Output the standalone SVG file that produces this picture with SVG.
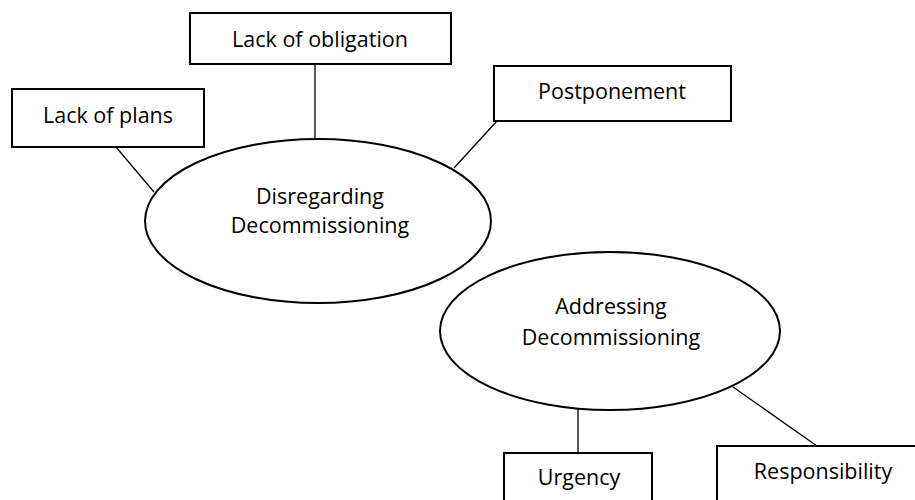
<svg xmlns="http://www.w3.org/2000/svg" width="915" height="500" viewBox="0 0 915 500">
  <style>
    .box { fill: #ffffff; stroke: #000000; stroke-width: 2; }
    .oval { fill: #ffffff; stroke: #000000; stroke-width: 2; }
    .link { stroke: #000000; stroke-width: 1.3; fill: none; }
    .label { font-family: "Open Sans", "Liberation Sans", sans-serif; font-size: 21.5px; fill: #000000; text-anchor: middle; }
  </style>
  <rect width="915" height="500" fill="#ffffff"/>

  <!-- connectors -->
  <g id="connectors">
    <line class="link" x1="116" y1="147" x2="154" y2="192"/>
    <line class="link" x1="315" y1="64" x2="315" y2="140"/>
    <line class="link" x1="497" y1="121" x2="454" y2="168"/>
    <line class="link" x1="578" y1="409" x2="578" y2="453"/>
    <line class="link" x1="733" y1="387" x2="817" y2="446"/>
  </g>

  <g id="lack-of-obligation">
    <rect class="box" x="190" y="13" width="261" height="51"/>
    <text class="label" x="320" y="47">Lack of obligation</text>
  </g>

  <g id="lack-of-plans">
    <rect class="box" x="12" y="89" width="192" height="58"/>
    <text class="label" x="108" y="123">Lack of plans</text>
  </g>

  <g id="postponement">
    <rect class="box" x="494" y="66" width="237" height="55"/>
    <text class="label" x="612" y="99">Postponement</text>
  </g>

  <g id="disregarding">
    <ellipse class="oval" cx="318" cy="221" rx="173" ry="82"/>
    <text class="label" x="320" y="204">Disregarding</text>
    <text class="label" x="320" y="233">Decommissioning</text>
  </g>

  <g id="addressing">
    <ellipse class="oval" cx="610" cy="331" rx="170" ry="79"/>
    <text class="label" x="611" y="314">Addressing</text>
    <text class="label" x="611" y="345">Decommissioning</text>
  </g>

  <g id="urgency">
    <rect class="box" x="504" y="453" width="148" height="60"/>
    <text class="label" x="579" y="485">Urgency</text>
  </g>

  <g id="responsibility">
    <rect class="box" x="717" y="446" width="215" height="70"/>
    <text class="label" x="823" y="479">Responsibility</text>
  </g>
</svg>
